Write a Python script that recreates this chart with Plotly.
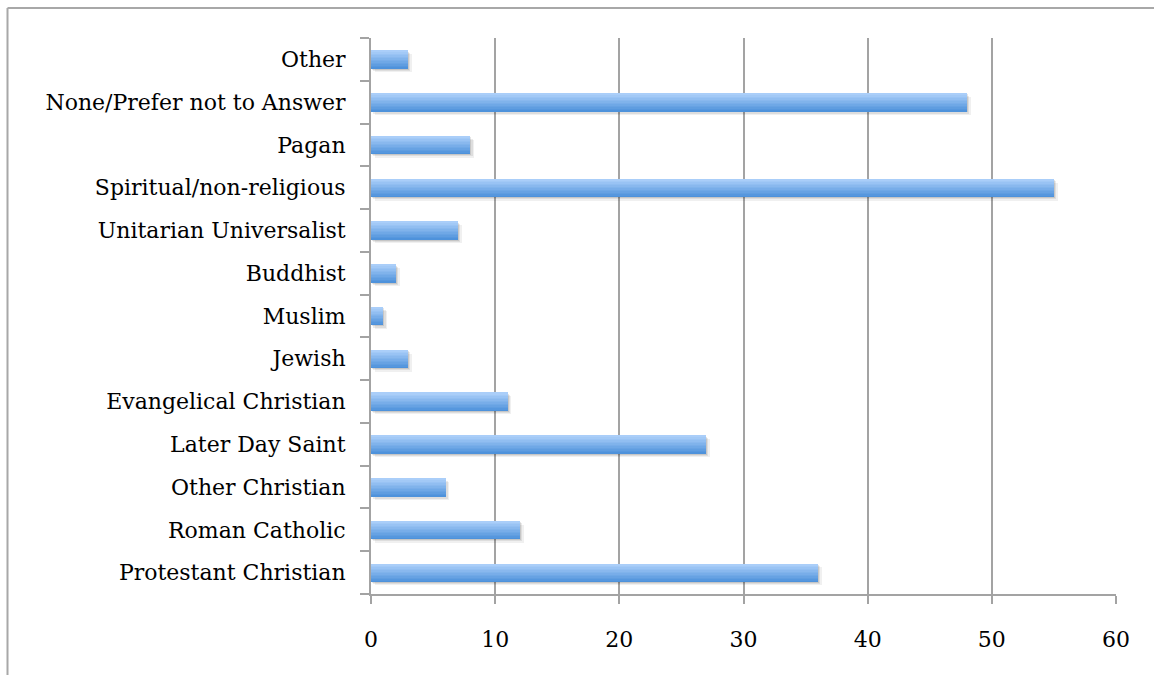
import plotly.graph_objects as go

# Survey responses by religious affiliation (bottom to top)
categories = [
    "Protestant Christian",
    "Roman Catholic",
    "Other Christian",
    "Later Day Saint",
    "Evangelical Christian",
    "Jewish",
    "Muslim",
    "Buddhist",
    "Unitarian Universalist",
    "Spiritual/non-religious",
    "Pagan",
    "None/Prefer not to Answer",
    "Other",
]
counts = [36, 12, 6, 27, 11, 3, 1, 2, 7, 55, 8, 48, 3]
x_ticks = [0, 10, 20, 30, 40, 50, 60]

FONT = "DejaVu Serif"
GRID = "#a3a3a3"
BAR_W = 0.42

fig = go.Figure()

# soft drop shadow under each bar
for base, shift, alpha in [(0.3, 0.09, 0.06), (0.18, 0.06, 0.08), (0.08, 0.03, 0.10)]:
    fig.add_trace(go.Bar(
        y=categories, x=counts, base=base, orientation="h",
        width=BAR_W, offset=-BAR_W / 2 - shift,
        marker=dict(color=f"rgba(0,0,0,{alpha})", line=dict(width=0)),
        hoverinfo="skip", showlegend=False,
    ))

# vertical gradient: stack thin slices from dark (bottom) to light (top)
top_rgb = (170, 206, 249)
bot_rgb = (78, 146, 219)
n = 12
slice_w = BAR_W / n
for k in range(n):
    t = k / (n - 1)
    r = round(bot_rgb[0] + (top_rgb[0] - bot_rgb[0]) * t)
    g = round(bot_rgb[1] + (top_rgb[1] - bot_rgb[1]) * t)
    b = round(bot_rgb[2] + (top_rgb[2] - bot_rgb[2]) * t)
    fig.add_trace(go.Bar(
        y=categories, x=counts, orientation="h",
        width=slice_w * 1.05, offset=-BAR_W / 2 + k * slice_w,
        marker=dict(color=f"rgb({r},{g},{b})", line=dict(width=0)),
        hoverinfo="skip" if k else "x+y", showlegend=False,
    ))

# chart frame
L, R, T, B = 371, 38, 38, 81
W, H = 1154, 675
pw, ph = W - L - R, H - T - B
def px(x):
    return (x - L) / pw
def py(y):
    return (H - B - y) / ph

fig.add_shape(type="line", xref="paper", yref="paper",
              x0=px(7.5), x1=px(7.5), y0=py(8), y1=py(700),
              line=dict(color="#a8a8a8", width=2))
fig.add_shape(type="line", xref="paper", yref="paper",
              x0=px(7.5), x1=px(1200), y0=py(8), y1=py(8),
              line=dict(color="#a8a8a8", width=2))

fig.update_layout(
    width=W, height=H,
    margin=dict(l=L, r=R, t=T, b=B),
    paper_bgcolor="white", plot_bgcolor="white",
    barmode="overlay", bargap=0,
    font=dict(family=FONT, size=22, color="black"),
    xaxis=dict(
        range=[0, 60], tickvals=x_ticks, ticktext=[str(v) for v in x_ticks],
        showgrid=True, gridcolor=GRID, gridwidth=2,
        showline=True, linecolor=GRID, linewidth=2,
        ticks="outside", ticklen=8, tickwidth=2, tickcolor=GRID,
        ticklabelstandoff=17, zeroline=False,
        tickfont=dict(family=FONT, size=22),
    ),
    yaxis=dict(
        type="category", categoryorder="array", categoryarray=categories,
        range=[-0.5, len(categories) - 0.5],
        showgrid=False, showline=True, linecolor=GRID, linewidth=2,
        ticks="outside", tickson="boundaries", ticklen=9, tickwidth=2,
        tickcolor=GRID, ticklabelstandoff=19,
        tickfont=dict(family=FONT, size=22),
    ),
)

fig.write_html("out.html")
